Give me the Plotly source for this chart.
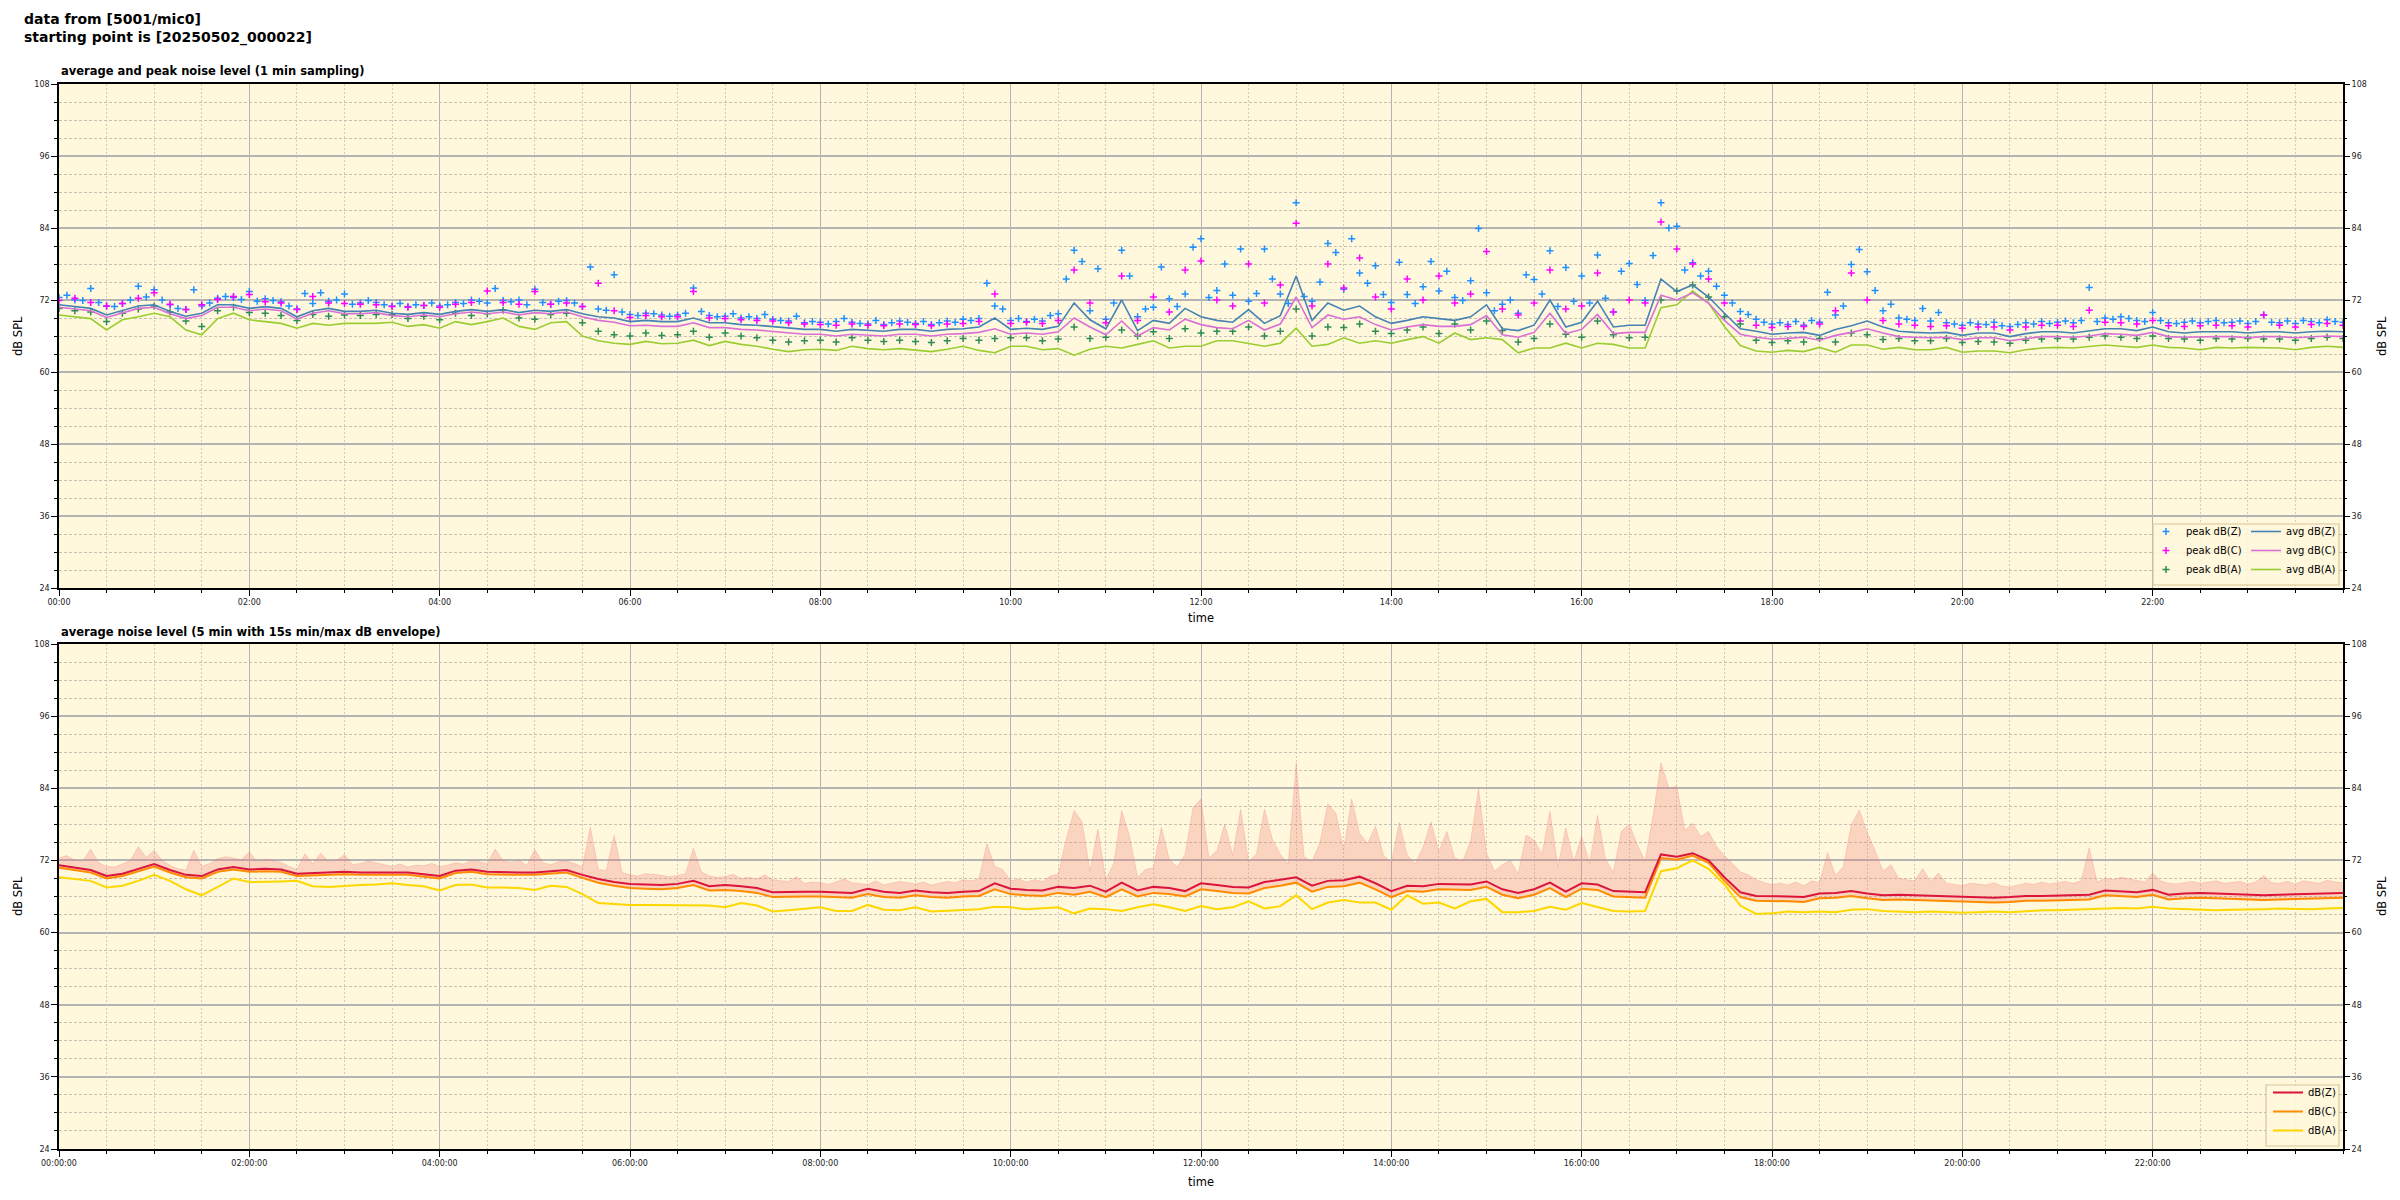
import plotly.graph_objects as go

# ---------------- data ----------------
# 10-minute samples, 00:00 .. 24:00 (145 values)
avg_z = [71.2, 70.9, 70.6, 69.5, 70.3, 71.0, 71.2, 70.1, 69.3, 69.8, 71.2, 71.2,
         70.6, 70.9, 70.6, 69.2, 70.2, 70.6, 70.1, 70.1, 70.3, 69.8, 69.6, 69.9,
         69.6, 70.1, 70.4, 70.1, 70.4, 69.9, 70.3, 70.1, 70.4, 69.7, 69.2, 69.0,
         68.4, 68.6, 68.4, 68.4, 69.0, 68.2, 68.2, 67.9, 67.8, 67.6, 67.3, 67.1,
         67.1, 66.8, 67.1, 66.9, 66.8, 67.1, 67.1, 66.8, 67.1, 67.2, 67.5, 69.0,
         67.1, 67.3, 67.1, 67.6, 71.5, 68.7, 67.2, 72.0, 66.9, 68.6, 68.1, 70.6,
         69.2, 68.6, 68.3, 70.4, 68.1, 69.4, 76.0, 68.6, 71.5, 70.3, 71.0, 69.2,
         68.1, 68.6, 69.2, 68.9, 68.6, 69.2, 71.2, 67.2, 66.9, 67.8, 72.0, 67.5,
         68.3, 71.8, 67.5, 67.8, 67.8, 75.5, 73.4, 74.5, 72.5, 69.8, 67.2, 66.8,
         66.3, 66.5, 66.6, 66.1, 67.1, 67.7, 68.5, 67.5, 66.8, 66.6, 66.5, 66.6,
         66.1, 66.5, 66.5, 65.9, 66.4, 66.7, 66.7, 66.5, 66.8, 67.2, 67.2, 66.9,
         67.5, 66.7, 66.5, 66.7, 66.7, 66.7, 66.5, 66.7, 66.7, 66.5, 66.7, 66.8,
         66.7]
avg_c = [70.8, 70.5, 70.2, 69.1, 69.9, 70.6, 70.8, 69.7, 68.9, 69.4, 70.8, 70.8,
         70.2, 70.5, 70.2, 68.8, 69.8, 70.2, 69.7, 69.7, 69.9, 69.4, 69.2, 69.5,
         69.2, 69.7, 70.0, 69.7, 70.0, 69.5, 69.9, 69.7, 70.0, 69.2, 68.6, 68.3,
         67.7, 67.8, 67.6, 67.6, 68.2, 67.4, 67.4, 67.1, 67.0, 66.8, 66.5, 66.3,
         66.3, 66.0, 66.3, 66.1, 66.0, 66.3, 66.3, 66.0, 66.3, 66.4, 66.6, 67.2,
         66.3, 66.5, 66.3, 66.7, 69.0, 67.5, 66.2, 68.5, 66.0, 67.4, 67.0, 68.8,
         67.9, 67.4, 67.2, 68.6, 67.0, 68.0, 72.5, 67.4, 69.5, 68.8, 69.2, 67.9,
         67.0, 67.5, 67.9, 67.6, 67.6, 67.9, 69.4, 66.2, 65.8, 66.6, 69.8, 66.4,
         67.1, 69.6, 66.4, 66.6, 66.6, 72.8, 72.0, 73.2, 71.5, 68.6, 66.3, 65.8,
         65.5, 65.6, 65.8, 65.3, 66.1, 66.6, 67.2, 66.5, 65.9, 65.8, 65.7, 65.8,
         65.4, 65.7, 65.7, 65.2, 65.6, 65.9, 65.9, 65.8, 66.0, 66.4, 66.3, 66.1,
         66.6, 65.9, 65.8, 65.9, 65.9, 65.9, 65.7, 65.9, 65.9, 65.7, 65.9, 66.0,
         65.9]
avg_a = [69.5, 69.2, 68.9, 67.0, 68.7, 69.2, 69.8, 69.2, 67.0, 66.2, 68.9, 69.8,
         68.7, 68.4, 68.1, 67.3, 68.1, 67.8, 68.1, 68.1, 68.1, 68.3, 67.6, 67.9,
         67.3, 68.4, 67.9, 68.4, 69.0, 67.6, 67.1, 68.2, 68.4, 66.0, 65.2, 64.8,
         64.6, 65.1, 64.7, 64.8, 65.3, 64.4, 65.1, 64.6, 64.3, 63.8, 63.4, 63.7,
         63.8, 63.6, 64.3, 63.9, 63.7, 63.9, 63.7, 63.4, 63.8, 64.3, 63.6, 63.2,
         64.3, 64.3, 63.7, 63.9, 62.8, 63.8, 64.3, 64.0, 64.6, 65.2, 64.0, 64.3,
         64.3, 65.2, 65.2, 64.8, 64.3, 64.8, 67.3, 64.3, 64.6, 65.7, 64.8, 65.2,
         64.8, 65.4, 65.9, 64.8, 66.5, 65.4, 65.7, 65.4, 63.2, 64.0, 64.0, 64.8,
         64.0, 64.8, 64.6, 64.0, 64.0, 70.7, 71.2, 73.5, 71.5, 67.6, 64.4, 63.5,
         63.3, 63.6, 63.4, 64.1, 63.3, 64.5, 64.5, 63.8, 64.1, 63.7, 63.7, 64.1,
         63.3, 63.5, 63.5, 63.2, 63.7, 64.0, 64.1, 64.0, 64.3, 64.5, 64.3, 64.1,
         64.5, 64.1, 64.0, 63.7, 64.1, 64.0, 64.1, 64.0, 64.0, 63.7, 64.1, 64.3,
         64.1]
peak_c = [71.9, 72.3, 71.6, 71.0, 71.4, 72.3, 73.2, 71.3, 70.4, 71.2, 72.1, 72.6,
          72.9, 71.7, 71.5, 70.4, 72.6, 71.5, 71.4, 71.3, 71.2, 70.9, 70.8, 71.1,
          70.8, 71.3, 71.6, 73.5, 71.6, 71.3, 73.4, 71.3, 71.5, 70.9, 74.8, 70.2,
          69.1, 69.4, 69.2, 69.2, 73.4, 69.0, 68.9, 68.7, 68.6, 68.5, 68.2, 68.0,
          67.9, 67.8, 68.0, 67.8, 67.7, 68.0, 67.9, 67.7, 68.0, 68.1, 68.4, 73.0,
          68.1, 68.3, 68.1, 68.6, 77.0, 71.5, 68.2, 76.0, 68.6, 72.5, 70.0, 77.0,
          78.5, 72.0, 71.0, 78.0, 71.5, 74.5, 84.8, 71.0, 78.0, 74.0, 79.0, 72.5,
          70.5, 75.5, 72.0, 76.0, 71.5, 73.0, 80.1, 70.5, 69.5, 71.5, 77.0, 70.5,
          71.0, 76.5, 70.0, 72.0, 71.5, 85.0, 80.5, 78.0, 75.5, 71.5, 68.5, 67.8,
          67.4, 67.6, 67.6, 68.0, 70.2, 76.5, 72.0, 68.6, 68.0, 67.8, 67.6, 67.7,
          67.3, 67.5, 67.5, 67.0, 67.5, 67.8, 67.8, 67.6, 70.3, 68.3, 68.2, 68.0,
          68.6, 67.7, 67.6, 67.7, 67.8, 67.7, 67.5, 69.5, 67.8, 67.5, 67.9, 68.1,
          67.8]
peak_a = [70.6, 70.2, 70.0, 68.4, 69.8, 70.5, 71.0, 70.0, 68.5, 67.6, 70.2, 70.8,
          69.9, 69.8, 69.4, 68.6, 69.6, 69.3, 69.5, 69.4, 69.6, 69.6, 68.9, 69.3,
          68.7, 69.8, 69.4, 69.7, 70.3, 69.0, 68.8, 69.6, 69.8, 68.2, 66.8, 66.2,
          66.0, 66.5, 66.1, 66.2, 66.8, 65.8, 66.5, 66.0, 65.7, 65.3, 65.0, 65.2,
          65.3, 65.0, 65.7, 65.3, 65.1, 65.3, 65.1, 64.9, 65.2, 65.6, 65.3, 65.6,
          65.7, 65.7, 65.2, 65.5, 67.5, 65.6, 65.8, 67.0, 66.0, 66.7, 65.6, 67.2,
          66.5, 66.8, 66.8, 67.5, 66.0, 66.8, 70.5, 66.0, 67.5, 67.4, 68.0, 66.8,
          66.4, 67.0, 67.5, 66.4, 68.0, 67.0, 68.5, 66.9, 65.0, 65.6, 68.0, 66.3,
          65.8, 68.5, 66.2, 65.7, 65.8, 72.0, 73.5, 74.5, 72.5, 69.2, 68.0, 65.3,
          64.9, 65.2, 65.0, 65.6, 65.0, 66.5, 66.2, 65.4, 65.6, 65.2, 65.2, 65.6,
          64.9, 65.1, 65.0, 64.8, 65.3, 65.5, 65.6, 65.5, 65.8, 66.0, 65.8, 65.6,
          66.0, 65.6, 65.5, 65.3, 65.6, 65.5, 65.6, 65.5, 65.5, 65.3, 65.6, 65.8,
          65.6]
# 5-minute samples of the peak dB(Z), 00:00 .. 24:00 (289 values, one row per hour)
peak_z = [72.4, 72.8, 72.0, 71.9, 73.9, 71.6, 71.0, 70.9, 71.4, 72.0, 74.3, 72.5,
          73.7, 72.0, 71.2, 70.6, 70.4, 73.7, 71.0, 71.5, 72.3, 72.6, 72.4, 72.1,
          73.4, 71.8, 72.2, 71.9, 71.7, 71.0, 70.5, 73.1, 71.4, 73.2, 71.8, 72.0,
          73.0, 71.3, 71.5, 71.9, 71.6, 71.2, 71.0, 71.4, 70.9, 71.2, 71.1, 71.5,
          71.0, 71.2, 71.6, 71.4, 72.0, 71.8, 71.5, 73.9, 71.9, 71.7, 72.0, 71.2,
          73.8, 71.6, 71.3, 71.8, 71.9, 71.5, 70.9, 77.5, 70.5, 70.3, 76.2, 70.0,
          69.6, 69.4, 69.8, 69.7, 69.5, 69.3, 69.5, 69.8, 74.0, 70.1, 69.4, 69.2,
          69.3, 69.7, 69.0, 69.2, 68.9, 69.6, 68.8, 68.6, 68.5, 69.3, 68.2, 68.4,
          68.3, 68.0, 68.4, 68.9, 68.3, 68.1, 68.0, 68.6, 67.9, 68.2, 68.5, 68.3,
          68.1, 68.4, 67.9, 68.2, 68.5, 68.3, 68.8, 68.6, 68.9, 74.8, 71.0, 70.5,
          68.6, 68.9, 68.4, 68.8, 68.5, 69.4, 69.7, 75.5, 80.3, 78.4, 70.2, 77.2,
          68.8, 71.5, 80.3, 76.0, 69.2, 70.5, 70.8, 77.5, 72.2, 70.9, 73.0, 80.8,
          82.2, 72.4, 73.6, 78.0, 72.8, 80.5, 71.8, 73.1, 80.5, 75.5, 73.0, 71.4,
          88.2, 72.6, 71.8, 75.0, 81.4, 79.9, 73.8, 82.2, 76.5, 74.8, 77.7, 72.9,
          71.6, 78.3, 72.9, 71.4, 74.2, 78.4, 73.5, 76.8, 72.4, 71.9, 75.2, 83.9,
          73.2, 70.2, 71.3, 72.0, 69.8, 76.2, 75.4, 73.0, 80.2, 70.9, 77.4, 71.8,
          76.0, 71.5, 79.5, 72.3, 70.0, 76.8, 78.1, 74.6, 71.9, 79.4, 88.2, 84.0,
          84.3, 77.0, 78.2, 76.0, 76.8, 74.3, 72.8, 71.5, 70.1, 69.6, 68.8, 68.3,
          68.0, 68.2, 67.9, 68.4, 67.8, 68.6, 68.3, 73.3, 69.5, 71.0, 77.9, 80.4,
          76.7, 73.6, 70.2, 71.3, 69.0, 68.8, 68.6, 70.6, 68.5, 69.9, 68.2, 68.0,
          67.8, 68.2, 68.0, 67.9, 68.3, 67.7, 67.6, 67.9, 68.2, 68.0, 68.4, 68.1,
          68.3, 68.5, 68.2, 68.6, 74.1, 68.4, 69.0, 68.8, 69.2, 68.9, 68.6, 68.4,
          69.9, 68.6, 68.2, 68.1, 68.3, 68.5, 68.2, 68.4, 68.6, 68.2, 68.3, 68.5,
          68.1, 68.4, 69.5, 68.3, 68.2, 68.5, 68.1, 68.6, 68.4, 68.2, 68.7, 68.4,
          68.3]
# 5-min averages (bottom panel), 10-minute samples, 00:00 .. 24:00 (145 values)
lvl_z = [71.2, 70.8, 70.4, 69.4, 69.8, 70.6, 71.4, 70.4, 69.6, 69.4, 70.5, 70.9,
         70.5, 70.6, 70.5, 69.8, 69.9, 70.1, 70.1, 70.0, 70.0, 70.1, 70.0, 69.7,
         69.4, 70.3, 70.5, 70.1, 70.0, 70.0, 70.0, 70.2, 70.4, 69.6, 68.9, 68.4,
         68.1, 68.0, 67.9, 68.1, 68.6, 67.7, 67.9, 67.7, 67.4, 66.7, 66.8, 66.8,
         66.8, 66.7, 66.6, 67.3, 66.8, 66.6, 67.0, 66.7, 66.6, 66.8, 66.9, 68.2,
         67.3, 67.1, 67.0, 67.6, 67.4, 67.8, 66.8, 68.3, 67.0, 67.6, 67.4, 66.9,
         68.2, 67.9, 67.6, 67.5, 68.4, 68.8, 69.2, 67.8, 68.6, 68.7, 69.3, 68.2,
         66.9, 67.8, 67.7, 68.1, 68.1, 68.0, 68.5, 67.2, 66.6, 67.2, 68.3, 66.8,
         68.2, 68.0, 66.9, 66.8, 66.7, 73.0, 72.6, 73.2, 72.0, 69.2, 66.7, 66.1,
         66.1, 66.0, 65.9, 66.5, 66.6, 66.9, 66.5, 66.2, 66.3, 66.2, 66.1, 66.0,
         65.9, 65.9, 65.8, 65.9, 66.1, 66.1, 66.2, 66.2, 66.3, 67.0, 66.8, 66.7,
         67.1, 66.3, 66.5, 66.6, 66.5, 66.4, 66.3, 66.2, 66.3, 66.4, 66.5, 66.6,
         66.6]
lvl_c = [70.8, 70.4, 70.0, 69.0, 69.4, 70.2, 71.0, 70.0, 69.2, 69.0, 70.1, 70.5,
         70.1, 70.2, 70.1, 69.4, 69.5, 69.7, 69.7, 69.6, 69.6, 69.7, 69.6, 69.3,
         69.0, 69.9, 70.1, 69.7, 69.6, 69.6, 69.6, 69.8, 70.0, 69.1, 68.3, 67.8,
         67.4, 67.3, 67.2, 67.4, 67.9, 67.0, 67.1, 66.9, 66.6, 65.9, 66.0, 66.0,
         66.0, 65.9, 65.8, 66.4, 65.9, 65.8, 66.2, 65.9, 65.8, 66.0, 66.1, 67.2,
         66.4, 66.2, 66.1, 66.6, 66.3, 66.8, 65.9, 67.2, 66.0, 66.6, 66.4, 66.0,
         67.2, 66.9, 66.6, 66.5, 67.4, 67.8, 68.3, 66.8, 67.6, 67.7, 68.3, 67.2,
         65.9, 66.9, 66.8, 67.2, 67.2, 67.1, 67.6, 66.3, 65.7, 66.3, 67.4, 65.9,
         67.3, 67.1, 66.0, 65.9, 65.8, 72.4, 72.1, 72.8, 71.6, 68.6, 65.9, 65.3,
         65.3, 65.2, 65.1, 65.7, 65.8, 66.1, 65.7, 65.4, 65.5, 65.4, 65.3, 65.2,
         65.1, 65.1, 65.0, 65.1, 65.3, 65.3, 65.4, 65.4, 65.5, 66.2, 66.0, 65.9,
         66.3, 65.5, 65.7, 65.8, 65.7, 65.6, 65.5, 65.4, 65.5, 65.6, 65.7, 65.8,
         65.8]
lvl_a = [69.2, 68.9, 68.6, 67.5, 67.8, 68.6, 69.6, 68.6, 67.2, 66.2, 67.6, 69.0,
         68.4, 68.4, 68.5, 68.6, 67.7, 67.6, 67.8, 67.9, 68.0, 68.2, 67.9, 67.7,
         67.0, 67.9, 68.0, 67.5, 67.5, 67.4, 67.1, 67.8, 67.6, 66.4, 64.9, 64.7,
         64.6, 64.6, 64.6, 64.6, 64.6, 64.5, 64.2, 64.9, 64.5, 63.5, 63.7, 63.9,
         64.2, 63.6, 63.6, 64.6, 63.8, 63.7, 64.2, 63.5, 63.6, 63.8, 63.9, 64.3,
         64.2, 63.9, 64.0, 64.2, 63.2, 64.0, 63.9, 63.6, 64.2, 64.7, 64.2, 63.6,
         64.4, 63.9, 64.2, 65.2, 64.0, 64.4, 66.2, 63.9, 65.0, 65.4, 65.0, 65.0,
         63.8, 66.2, 64.8, 65.0, 64.0, 65.2, 65.6, 63.4, 63.4, 63.6, 64.3, 63.8,
         64.9, 64.3, 63.6, 63.5, 63.6, 70.2, 70.7, 72.0, 70.6, 68.0, 64.5, 63.1,
         63.2, 63.5, 63.4, 63.5, 63.4, 63.8, 63.9, 63.6, 63.5, 63.4, 63.5, 63.4,
         63.3, 63.4, 63.5, 63.4, 63.6, 63.7, 63.7, 63.8, 63.9, 64.1, 64.1, 64.0,
         64.3, 64.0, 63.9, 63.8, 63.7, 63.8, 63.8, 63.9, 64.0, 63.9, 63.9, 64.0,
         64.1]

tick_hours = [0, 2, 4, 6, 8, 10, 12, 14, 16, 18, 20, 22]
tick_labels_top = ["00:00", "02:00", "04:00", "06:00", "08:00", "10:00",
                   "12:00", "14:00", "16:00", "18:00", "20:00", "22:00"]
tick_labels_bottom = ["00:00:00", "02:00:00", "04:00:00", "06:00:00", "08:00:00", "10:00:00",
                      "12:00:00", "14:00:00", "16:00:00", "18:00:00", "20:00:00", "22:00:00"]
y_ticks = [24, 36, 48, 60, 72, 84, 96, 108]

# time positions (hours since start)
t10 = [i / 6 for i in range(len(avg_z))]
t5 = [j / 12 for j in range(len(peak_z))]
minor_x = [k * 0.5 for k in range(49)]
minor_y = list(range(24, 109, 3))

# ---------------- figure ----------------
# the page adds an 8 px body margin, so the figure is 8 px smaller and all
# positions below are given in screen pixels and shifted by that offset
OFF = 8
W, H = 2400 - OFF, 1200 - OFF
def px(x): return (x - OFF) / W
def py(y): return 1 - (y - OFF) / H

FONT = "DejaVu Sans"
BG = "#FFF8DC"

fig = go.Figure()

def peak_trace(x, y, name, color, rank):
    return go.Scatter(x=x, y=y, mode="markers", name=name, legend="legend", legendrank=rank,
                      marker=dict(symbol="cross-thin", size=5, color=color,
                                  line=dict(width=1.5, color=color)),
                      xaxis="x", yaxis="y", hoverinfo="skip")

fig.add_trace(peak_trace(t5, peak_z, "peak dB(Z)", "#1E90FF", 1))
fig.add_trace(peak_trace(t10, peak_c, "peak dB(C)", "#FF00FF", 2))
fig.add_trace(peak_trace(t10, peak_a, "peak dB(A)", "#2E8B57", 3))

fig.add_trace(go.Scatter(x=t10, y=avg_a, mode="lines", name="avg dB(A)", legend="legend2", legendrank=3,
                         line=dict(color="#9ACD32", width=1.6), xaxis="x", yaxis="y"))
fig.add_trace(go.Scatter(x=t10, y=avg_c, mode="lines", name="avg dB(C)", legend="legend2", legendrank=2,
                         line=dict(color="#DA70D6", width=1.6), xaxis="x", yaxis="y"))
fig.add_trace(go.Scatter(x=t10, y=avg_z, mode="lines", name="avg dB(Z)", legend="legend2", legendrank=1,
                         line=dict(color="#4682B4", width=1.6), xaxis="x", yaxis="y"))
# right-hand axis of the top panel
fig.add_trace(go.Scatter(x=t10, y=avg_a, mode="none", showlegend=False, hoverinfo="skip",
                         xaxis="x", yaxis="y3"))

# bottom panel: min/max envelope then levels
fig.add_trace(go.Scatter(x=t10, y=lvl_c, mode="lines", line=dict(width=0, color="rgba(0,0,0,0)"),
                         showlegend=False, hoverinfo="skip", xaxis="x2", yaxis="y2"))
fig.add_trace(go.Scatter(x=t5, y=peak_z, mode="lines", fill="tonexty",
                         fillcolor="rgba(240,120,120,0.28)",
                         line=dict(width=0.8, color="rgba(240,120,120,0.35)"),
                         showlegend=False, hoverinfo="skip", xaxis="x2", yaxis="y2"))
fig.add_trace(go.Scatter(x=t10, y=lvl_a, mode="lines", name="dB(A)", legend="legend3", legendrank=3,
                         line=dict(color="#FFD700", width=2), xaxis="x2", yaxis="y2"))
fig.add_trace(go.Scatter(x=t10, y=lvl_c, mode="lines", name="dB(C)", legend="legend3", legendrank=2,
                         line=dict(color="#FF8C00", width=2), xaxis="x2", yaxis="y2"))
fig.add_trace(go.Scatter(x=t10, y=lvl_z, mode="lines", name="dB(Z)", legend="legend3", legendrank=1,
                         line=dict(color="#DC143C", width=2), xaxis="x2", yaxis="y2"))
fig.add_trace(go.Scatter(x=t10, y=lvl_a, mode="none", showlegend=False, hoverinfo="skip",
                         xaxis="x2", yaxis="y4"))

tickfont = dict(family=FONT, size=8, color="#222")

def xaxis(anchor, labels):
    return dict(domain=[px(59), px(2343)], range=[0, 24], anchor=anchor, automargin=False,
                tickmode="array", tickvals=tick_hours, ticktext=labels,
                ticks="outside", ticklen=6, tickcolor="#000", tickwidth=1,
                tickfont=tickfont, showline=True, linecolor="#000", linewidth=1.5,
                mirror=True, showgrid=True, gridcolor="#b4b4b4", gridwidth=1.2,
                zeroline=False,
                minor=dict(tickmode="array", tickvals=minor_x, ticks="outside", ticklen=3,
                           tickcolor="#000", showgrid=True, gridcolor="#d2cbb8",
                           griddash="2px,2px", gridwidth=1))

def yaxis(dom, anchor, side="left", overlay=None):
    d = dict(domain=dom, range=[24, 108], anchor=anchor, side=side, automargin=False,
             tickmode="array", tickvals=y_ticks, ticks="outside", ticklen=6,
             tickcolor="#000", tickwidth=1, tickfont=tickfont, zeroline=False,
             minor=dict(tickmode="array", tickvals=minor_y, ticks="outside", ticklen=3,
                        tickcolor="#000", showgrid=(overlay is None), gridcolor="#c6c1b2",
                        griddash="3px,2px", gridwidth=1))
    if overlay is None:
        d.update(showline=True, linecolor="#000", linewidth=1.5, mirror=True,
                 showgrid=True, gridcolor="#b4b4b4", gridwidth=1.5)
    else:
        d.update(overlaying=overlay, showline=False, showgrid=False)
    return d

top_dom = [py(588), py(84)]
bot_dom = [py(1149), py(644)]

legend_common = dict(bgcolor="rgba(0,0,0,0)", borderwidth=0, font=dict(family=FONT, size=10, color="#000"),
                     xanchor="left", yanchor="bottom", tracegroupgap=0, itemwidth=30,
                     traceorder="normal")

fig.update_layout(
    template="none",
    width=W, height=H, autosize=False,
    margin=dict(l=0, r=0, t=0, b=0, pad=0),
    paper_bgcolor="white", plot_bgcolor=BG,
    font=dict(family=FONT, color="#000"),
    xaxis=xaxis("y", tick_labels_top),
    yaxis=yaxis(top_dom, "x"),
    yaxis3=yaxis(top_dom, "x", side="right", overlay="y"),
    xaxis2=xaxis("y2", tick_labels_bottom),
    yaxis2=yaxis(bot_dom, "x2"),
    yaxis4=yaxis(bot_dom, "x2", side="right", overlay="y2"),
    legend=dict(x=px(2146), y=py(584), **legend_common),
    legend2=dict(x=px(2246), y=py(584), **legend_common),
    legend3=dict(x=px(2268), y=py(1145), **legend_common),
    showlegend=True,
    shapes=[
        dict(type="rect", xref="paper", yref="paper", x0=px(2153), x1=px(2339),
             y0=py(585), y1=py(524), line=dict(color="#dcc49a", width=1.2),
             fillcolor="rgba(255,248,220,0.85)", layer="above"),
        dict(type="rect", xref="paper", yref="paper", x0=px(2266), x1=px(2339),
             y0=py(1146), y1=py(1085), line=dict(color="#dcc49a", width=1.2),
             fillcolor="rgba(255,248,220,0.85)", layer="above"),
    ],
)

ann = []
ann.append(dict(text="<b>data from [5001/mic0]<br>starting point is [20250502_000022]</b>",
                x=px(22), y=py(9), xref="paper", yref="paper", xanchor="left", yanchor="top",
                align="left", showarrow=False, font=dict(family=FONT, size=14, color="#000")))
ann.append(dict(text="<b>average and peak noise level (1 min sampling)</b>",
                x=px(59), y=py(71), xref="paper", yref="paper", xanchor="left", yanchor="middle",
                showarrow=False, font=dict(family=FONT, size=11.5, color="#000")))
ann.append(dict(text="<b>average noise level (5 min with 15s min/max dB envelope)</b>",
                x=px(59), y=py(632), xref="paper", yref="paper", xanchor="left", yanchor="middle",
                showarrow=False, font=dict(family=FONT, size=11.5, color="#000")))
for yc in (618, 1182):
    ann.append(dict(text="time", x=px(1201), y=py(yc), xref="paper", yref="paper",
                    xanchor="center", yanchor="middle", showarrow=False,
                    font=dict(family=FONT, size=11.5, color="#000")))
for yc in (336, 896):
    for xc in (18, 2382):
        ann.append(dict(text="dB SPL", x=px(xc), y=py(yc), xref="paper", yref="paper",
                        xanchor="center", yanchor="middle", textangle=-90, showarrow=False,
                        font=dict(family=FONT, size=11.5, color="#000")))
fig.update_layout(annotations=ann)

fig.write_html("out.html")
